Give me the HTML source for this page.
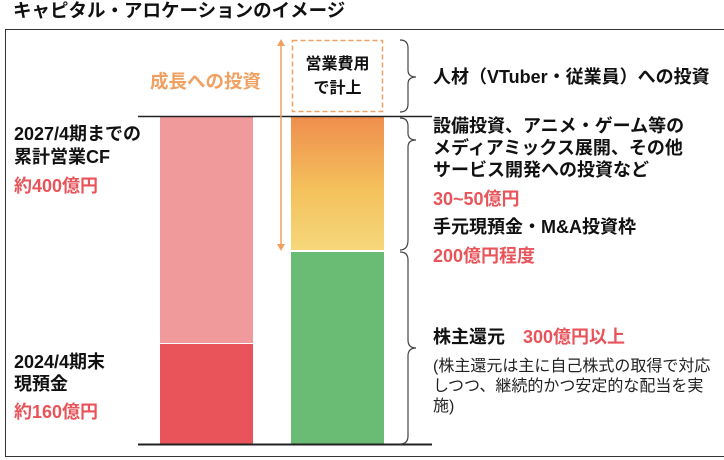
<!DOCTYPE html>
<html><head><meta charset="utf-8"><style>
body{margin:0;width:724px;height:460px;background:#fff;position:relative;overflow:hidden;font-family:"Liberation Sans","Noto Sans CJK JP",sans-serif;}
.t{position:absolute;white-space:nowrap;font-weight:bold;color:#111;line-height:1;}
.r{color:#E8545A}
</style></head><body>
<div class="t" style="left:13px;top:2px;font-size:18.5px">キャピタル・アロケーションのイメージ</div>
<div style="position:absolute;left:5px;top:29px;width:730px;height:426px;border:1.5px solid #333"></div>
<svg style="position:absolute;left:0;top:0" width="724" height="460">
<defs><linearGradient id="g" x1="0" y1="0" x2="0" y2="1"><stop offset="0" stop-color="#EF8E4E"/><stop offset="0.55" stop-color="#F4C15C"/><stop offset="1" stop-color="#F5D77A"/></linearGradient></defs>
<rect x="160" y="117" width="93" height="226" fill="#F09A9C"/>
<rect x="160" y="344" width="93" height="100" fill="#E8545A"/>
<rect x="291" y="117" width="93" height="133" fill="url(#g)"/>
<rect x="291" y="252" width="93" height="192" fill="#6ABB74"/>
<line x1="138" y1="116.5" x2="432" y2="116.5" stroke="#222" stroke-width="1.5"/>
<line x1="138" y1="444.5" x2="432" y2="444.5" stroke="#222" stroke-width="2"/>
<rect x="292.5" y="40.5" width="90" height="71" fill="none" stroke="#F0A060" stroke-width="1.5" stroke-dasharray="5,3"/>
<line x1="281" y1="44" x2="281" y2="246" stroke="#F0A060" stroke-width="1.5"/>
<path d="M277 46 L281 39 L285 46 Z M277 244 L281 251 L285 244 Z" fill="#F0A060"/>
<g fill="none" stroke="#444" stroke-width="1.2">
<path d="M400 40 Q408 40 408 48 L408 70 Q408 77 416 77 Q408 77 408 84 L408 104 Q408 112 400 112"/>
<path d="M400 118 Q408 118 408 126 L408 133 Q408 140 416 140 Q408 140 408 147 L408 240 Q408 250 400 250"/>
<path d="M400 252 Q408 252 408 260 L408 340 Q408 348 416 348 Q408 348 408 356 L408 436 Q408 444 400 444"/>
</g>
</svg>
<div class="t" style="left:150px;top:73px;font-size:18.5px;color:#F0A060">成長への投資</div>
<div class="t" style="left:292px;top:53px;width:91px;text-align:center;font-size:16px;line-height:24px">営業費用<br>で計上</div>
<div class="t" style="left:14px;top:123px;font-size:18px;line-height:23px">2027/4期までの<br>累計営業CF</div>
<div class="t r" style="left:14px;top:177px;font-size:18px">約400億円</div>
<div class="t" style="left:14px;top:351px;font-size:18px;line-height:22px">2024/4期末<br>現預金</div>
<div class="t r" style="left:14px;top:403px;font-size:18px">約160億円</div>
<div class="t" style="left:433px;top:68px;font-size:18px">人材（VTuber・従業員）への投資</div>
<div class="t" style="left:433px;top:115px;font-size:18px;line-height:22px">設備投資、アニメ・ゲーム等の<br>メディアミックス展開、その他<br>サービス開発への投資など</div>
<div class="t r" style="left:433px;top:190px;font-size:18px">30~50億円</div>
<div class="t" style="left:433px;top:218px;font-size:18px">手元現預金・M&amp;A投資枠</div>
<div class="t r" style="left:433px;top:247px;font-size:18px">200億円程度</div>
<div class="t" style="left:433px;top:328px;font-size:18px">株主還元　<span class="r">300億円以上</span></div>
<div class="t" style="left:433px;top:357px;font-size:16px;font-weight:normal;line-height:20px;color:#222">(株主還元は主に自己株式の取得で対応<br>しつつ、継続的かつ安定的な配当を実<br>施)</div>
</body></html>
